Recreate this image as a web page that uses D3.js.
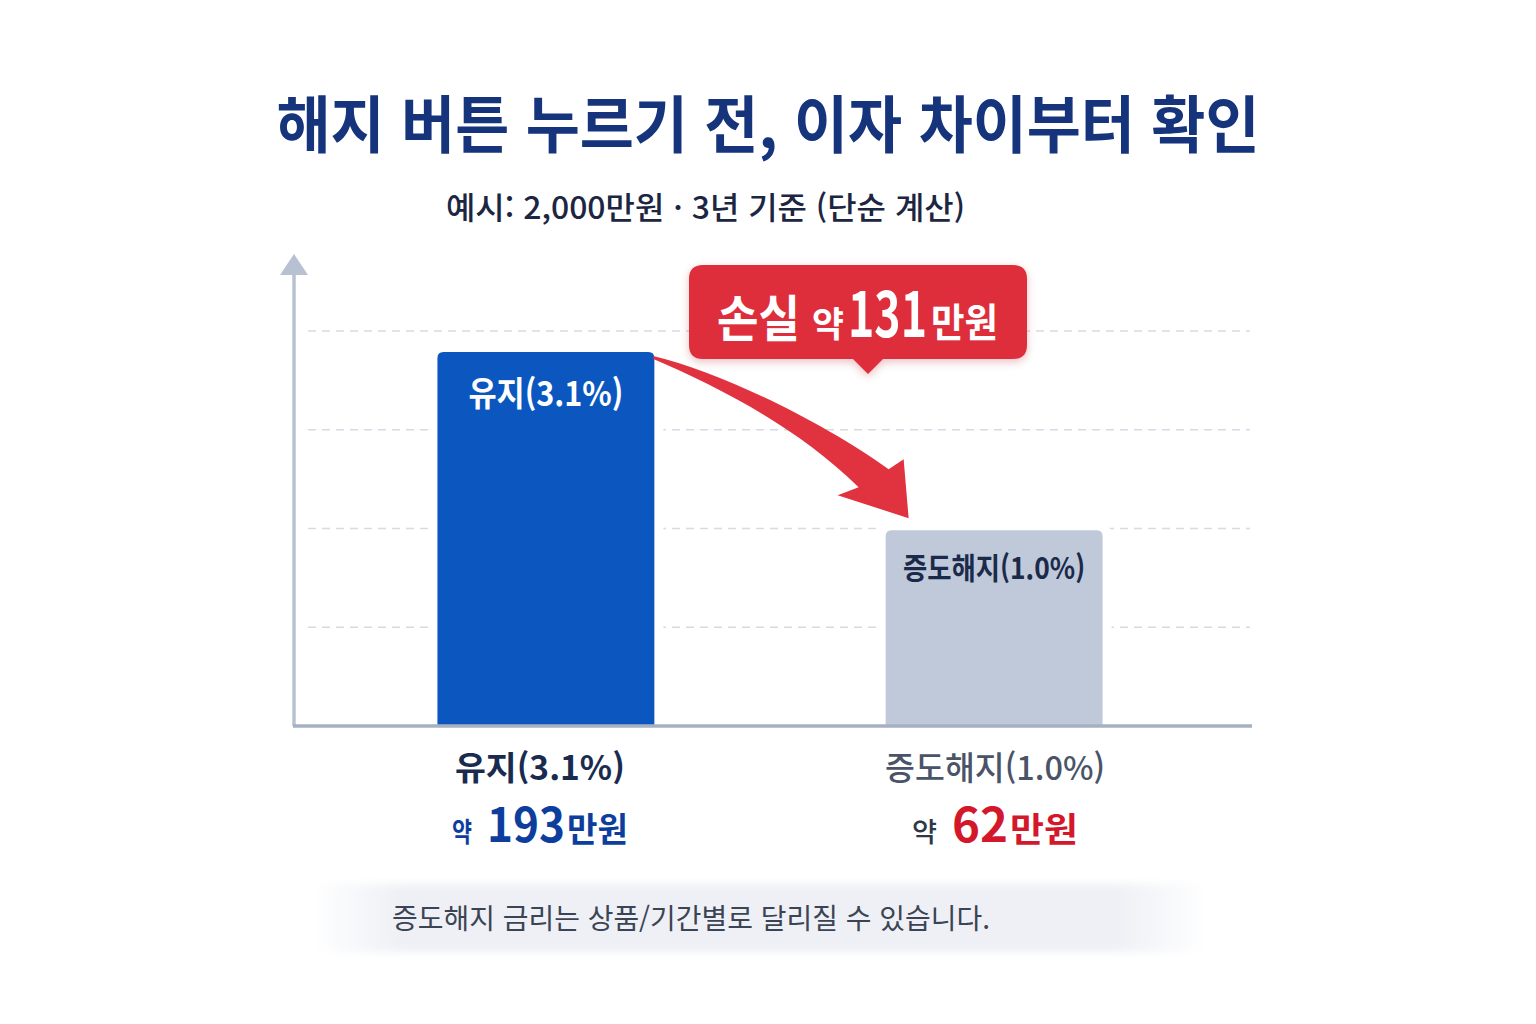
<!DOCTYPE html>
<html lang="ko">
<head>
<meta charset="utf-8">
<title>해지 버튼 누르기 전, 이자 차이부터 확인</title>
<script src="https://cdn.jsdelivr.net/npm/d3@7"></script>
<style>
  html, body { margin: 0; padding: 0; background: #ffffff; }
  svg { display: block; }
  text { font-family: "Noto Sans CJK KR", "Noto Sans", sans-serif; }
</style>
</head>
<body>
<div id="chart"></div>
<script>
// chart values
const categories = ['유지', '증도해지'];
const rates = [3.1, 1.0];          // 금리 (%)
const interest = [193, 62];        // 3년 이자 (만원)
const gridLevels = [1, 2, 3, 4];

const titleText = '해지 버튼 누르기 전, 이자 차이부터 확인';
const subtitleText = '예시: 2,000만원 · 3년 기준 (단순 계산)';
const noteText = '증도해지 금리는 상품/기간별로 달리질 수 있습니다.';

const W = 1536, H = 1024;
const baseY = 726, axisX = 294;

const svg = d3.select('#chart').append('svg')
    .attr('width', W)
    .attr('height', H);

const defs = svg.append('defs');

// helper: squeeze text to the width it has in the picture
function fit(sel, width) {
    sel.attr('textLength', width).attr('lengthAdjust', 'spacingAndGlyphs');
    return sel;
}

// helper: a row of separately sized pieces, each scaled to its own width
function pieces(parts, x0, yb) {
    let cur = x0;
    parts.forEach(pt => {
        cur += pt.gap || 0;
        const t = svg.append('text')
            .attr('font-size', pt.size)
            .attr('font-weight', pt.weight || 700)
            .attr('fill', pt.color)
            .text(pt.text);
        const natural = t.node().getComputedTextLength() || pt.w;
        t.attr('transform', `translate(${cur},${yb}) scale(${pt.w / natural},1)`);
        cur += pt.w;
    });
}

// Title + subtitle
fit(svg.append('text')
    .attr('x', 768).attr('y', 148)
    .attr('text-anchor', 'middle')
    .attr('font-size', 62).attr('font-weight', 700)
    .attr('fill', '#15347c')
    .text(titleText), 983);

fit(svg.append('text')
    .attr('x', 446).attr('y', 219)
    .attr('font-size', 31).attr('font-weight', 500)
    .attr('fill', '#1c2642')
    .text(subtitleText), 519);

// scales
const x = d3.scaleBand()
    .domain(categories)
    .range([axisX, 1246])
    .paddingInner(0.516)
    .paddingOuter(0.32);

const y = d3.scalePow().exponent(0.57)
    .domain([0, d3.max(interest)])
    .range([baseY, 352]);

const grid = d3.scaleLinear().domain([0, 4]).range([baseY, 331]);

// dashed grid
svg.append('g').selectAll('line')
    .data(gridLevels)
    .enter().append('line')
    .attr('x1', 308).attr('x2', 1250)
    .attr('y1', d => grid(d)).attr('y2', d => grid(d))
    .attr('stroke', '#d6dae4')
    .attr('stroke-width', 1.5)
    .attr('stroke-dasharray', '8 6');

const rows = categories.map((c, i) => ({ cat: c, rate: rates[i], value: interest[i] }));

function barPath(d, r) {
    const x0 = x(d.cat), x1 = x0 + x.bandwidth(), y0 = y(d.value);
    return `M${x0},${baseY}V${y0 + r}Q${x0},${y0} ${x0 + r},${y0}H${x1 - r}Q${x1},${y0} ${x1},${y0 + r}V${baseY}Z`;
}

// white halo so grid stops short of bars
svg.append('g').selectAll('path')
    .data(rows)
    .enter().append('path')
    .attr('d', d => barPath(d, 6))
    .attr('fill', '#ffffff')
    .attr('stroke', '#ffffff')
    .attr('stroke-width', 18);

const barFill = ['#0b57bf', '#bfc9d9'];
svg.append('g').selectAll('path')
    .data(rows)
    .enter().append('path')
    .attr('d', d => barPath(d, 6))
    .attr('fill', (d, i) => barFill[i]);

// labels inside bars
fit(svg.append('text')
    .attr('x', x(categories[0]) + x.bandwidth() / 2)
    .attr('y', y(interest[0]) + 54)
    .attr('text-anchor', 'middle')
    .attr('font-size', 34).attr('font-weight', 700)
    .attr('fill', '#ffffff')
    .text(`${categories[0]}(${rates[0].toFixed(1)}%)`), 155);

fit(svg.append('text')
    .attr('x', x(categories[1]) + x.bandwidth() / 2)
    .attr('y', y(interest[1]) + 49)
    .attr('text-anchor', 'middle')
    .attr('font-size', 30).attr('font-weight', 700)
    .attr('fill', '#1b2a4a')
    .text(`${categories[1]}(${rates[1].toFixed(1)}%)`), 182);

// axes
svg.append('line')
    .attr('x1', axisX).attr('x2', axisX)
    .attr('y1', baseY).attr('y2', 270)
    .attr('stroke', '#b8c1d1').attr('stroke-width', 3.5);
svg.append('path')
    .attr('d', `M${axisX},254L${axisX + 14},275L${axisX - 14},275Z`)
    .attr('fill', '#b8c1d1');
svg.append('line')
    .attr('x1', axisX - 1).attr('x2', 1252)
    .attr('y1', baseY).attr('y2', baseY)
    .attr('stroke', '#a6b0c3').attr('stroke-width', 3.5);

// curved arrow from the top of 유지 to 증도해지
const S = [x(categories[0]) + x.bandwidth() - 1, y(interest[0]) + 4];
const T = [x(categories[1]) + 23, y(interest[1]) - 12];
const p = (b, dx, dy) => `${b[0] + dx},${b[1] + dy}`;
svg.append('path')
    .attr('d',
        `M${p(S, 0, 0)}` +
        `C${p(S, 68, 16)} ${p(T, -84, -95)} ${p(T, -20, -49)}` +
        `L${p(T, -5, -59)}L${p(T, 0, 0)}L${p(T, -71, -23)}L${p(T, -50, -31)}` +
        `C${p(T, -110, -90)} ${p(S, 66, 31)} ${p(S, 0, 3)}Z`)
    .attr('fill', '#e0323f');

// callout
const shadow = defs.append('filter').attr('id', 'shadow')
    .attr('x', '-10%').attr('y', '-20%').attr('width', '120%').attr('height', '150%');
shadow.append('feDropShadow')
    .attr('dx', 0).attr('dy', 3).attr('stdDeviation', 4)
    .attr('flood-color', '#b01020').attr('flood-opacity', 0.25);

const cx0 = 689, cx1 = 1027, cy0 = 265, cy1 = 359, cr = 14, tipX = 868;
svg.append('path')
    .attr('d',
        `M${cx0 + cr},${cy0}H${cx1 - cr}Q${cx1},${cy0} ${cx1},${cy0 + cr}V${cy1 - cr}` +
        `Q${cx1},${cy1} ${cx1 - cr},${cy1}H${tipX + 15}L${tipX},${cy1 + 15}L${tipX - 15},${cy1}` +
        `H${cx0 + cr}Q${cx0},${cy1} ${cx0},${cy1 - cr}V${cy0 + cr}Q${cx0},${cy0} ${cx0 + cr},${cy0}Z`)
    .attr('fill', '#df2e3b')
    .attr('filter', 'url(#shadow)');

const loss = interest[0] - interest[1];
pieces([
    { text: '손실', size: 50, w: 83, color: '#ffffff' },
    { text: '약', size: 35, w: 32, gap: 12, color: '#ffffff' },
    { text: String(loss), size: 62, w: 79, gap: 4, color: '#ffffff' },
    { text: '만원', size: 40, w: 67, gap: 4, color: '#ffffff' }
], cx0 + 28, 337);

// labels under the bars
const catColor = ['#1a2b50', '#4a5468'];
const catWeight = [700, 500];
const catWidth = [170, 220];
const catShift = [-6, 1];
const valColor = ['#0d3e9e', '#d4182b'];
const yakColor = ['#0d3e9e', '#2d3748'];
// widths of 약 / value / 만원 in the picture
const valW = [[20, 78, 61], [25, 56, 68]];
const valGap = [[15, 2], [15, 2]];

rows.forEach((d, i) => {
    const cx = x(d.cat) + x.bandwidth() / 2;
    fit(svg.append('text')
        .attr('x', cx + catShift[i]).attr('y', 780)
        .attr('text-anchor', 'middle')
        .attr('font-size', 33).attr('font-weight', catWeight[i])
        .attr('fill', catColor[i])
        .text(`${d.cat}(${d.rate.toFixed(1)}%)`), catWidth[i]);

    const total = d3.sum(valW[i]) + d3.sum(valGap[i]);
    pieces([
        { text: '약', size: 27, w: valW[i][0], color: yakColor[i], weight: i ? 500 : 700 },
        { text: String(d.value), size: 47, w: valW[i][1], gap: valGap[i][0], color: valColor[i] },
        { text: '만원', size: 34, w: valW[i][2], gap: valGap[i][1], color: valColor[i] }
    ], cx + catShift[i] - total / 2, 842);
});

// note band
const bandGrad = defs.append('linearGradient').attr('id', 'band')
    .attr('x1', 0).attr('x2', 1).attr('y1', 0).attr('y2', 0);
[[0, 0], [0.1, 1], [0.9, 1], [1, 0]].forEach(([o, a]) =>
    bandGrad.append('stop').attr('offset', o).attr('stop-color', '#eef0f5').attr('stop-opacity', a));
const blur = defs.append('filter').attr('id', 'soft');
blur.append('feGaussianBlur').attr('stdDeviation', 4);

svg.append('rect')
    .attr('x', 312).attr('y', 884)
    .attr('width', 895).attr('height', 68)
    .attr('fill', 'url(#band)')
    .attr('filter', 'url(#soft)');

fit(svg.append('text')
    .attr('x', 392).attr('y', 929)
    .attr('font-size', 28).attr('font-weight', 400)
    .attr('fill', '#3b4454')
    .text(noteText), 598);
</script>
</body>
</html>
